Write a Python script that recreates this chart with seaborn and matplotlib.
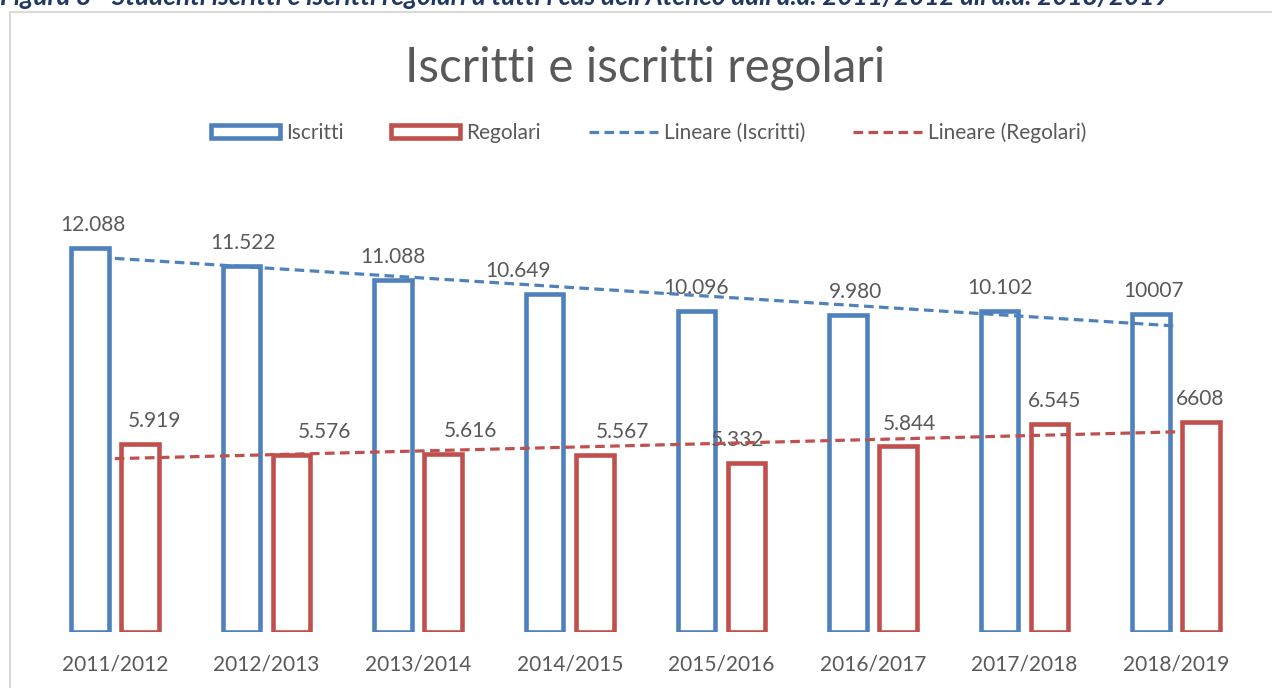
import numpy as np
import pandas as pd
import matplotlib
matplotlib.use("Agg")
import matplotlib.pyplot as plt
import matplotlib.patches as mpatches
import matplotlib.lines as mlines
import seaborn as sns

# ---------------- Data ----------------

anni = ['2011/2012', '2012/2013', '2013/2014', '2014/2015',
        '2015/2016', '2016/2017', '2017/2018', '2018/2019']
iscritti = [12088, 11522, 11088, 10649, 10096, 9980, 10102, 10007]
regolari = [5919, 5576, 5616, 5567, 5332, 5844, 6545, 6608]
etichette_iscritti = ['12.088', '11.522', '11.088', '10.649',
                      '10.096', '9.980', '10.102', '10007']
etichette_regolari = ['5.919', '5.576', '5.616', '5.567',
                      '5.332', '5.844', '6.545', '6608']

# label nudges (pixels), as placed by hand in the original
nudge_iscritti = [3, 2, 0, -27, 0, 8, 0, 2]
nudge_regolari = [15, 33, 27, 28, -9, 11, 5, -1]

BLU = '#4F81BD'
ROSSO = '#C0504D'
GRIGIO = '#595959'

df = pd.DataFrame({
    'Anno': anni * 2,
    'Valore': iscritti + regolari,
    'Serie': ['Iscritti'] * len(anni) + ['Regolari'] * len(anni),
})

# ---------------- Plot ----------------

sns.set_style('white')
plt.rcParams['font.family'] = ['Lato', 'DejaVu Sans']

fig = plt.figure(figsize=(12.72, 6.88), dpi=100)
ax = fig.add_axes([0.0307, 0.0814, 0.9536, 0.6236])

sns.barplot(
    data=df, x='Anno', y='Valore', hue='Serie',
    palette=[BLU, ROSSO], saturation=1, fill=False,
    width=0.66, gap=0.25, linewidth=3.3, errorbar=None,
    legend=False, ax=ax
)

# linear trend lines
xs = np.arange(len(anni))
for serie, col in [(iscritti, BLU), (regolari, ROSSO)]:
    m, q = np.polyfit(xs, serie, 1)
    ax.plot(xs, m * xs + q, color=col, lw=2.3,
            linestyle=(0, (3, 1.7)), zorder=5)

# data labels
for cont, labs, nud in [(ax.containers[0], etichette_iscritti, nudge_iscritti),
                        (ax.containers[1], etichette_regolari, nudge_regolari)]:
    for bar, lab, n in zip(cont, labs, nud):
        cx = bar.get_x() + bar.get_width() / 2
        ax.annotate(lab, (cx, bar.get_height()),
                    xytext=(n * 0.72, 12), textcoords='offset points',
                    ha='center', va='baseline', fontsize=15, color=GRIGIO)

ax.set_xlim(-0.5, 7.5)
ax.set_ylim(0, 13500)
ax.set_yticks([])
ax.set_xlabel('')
ax.set_ylabel('')
ax.tick_params(axis='x', length=0, pad=16, labelsize=15, labelcolor=GRIGIO)
sns.despine(ax=ax, left=True, bottom=True)

# title
fig.text(0.507, 0.902, 'Iscritti e iscritti regolari', ha='center', va='center',
         fontsize=34.3, color=GRIGIO)

# legend
handles = [
    mpatches.Patch(facecolor='white', edgecolor=BLU, linewidth=3.3, label='Iscritti'),
    mpatches.Patch(facecolor='white', edgecolor=ROSSO, linewidth=3.3, label='Regolari'),
    mlines.Line2D([], [], color=BLU, lw=2.3, linestyle=(0, (3, 1.7)),
                  label='Lineare (Iscritti)'),
    mlines.Line2D([], [], color=ROSSO, lw=2.3, linestyle=(0, (3, 1.7)),
                  label='Lineare (Regolari)'),
]
leg = fig.legend(handles=handles, loc='center', bbox_to_anchor=(0.51, 0.807),
                 ncol=4, frameon=False, fontsize=15, handlelength=3.3,
                 handleheight=0.6, handletextpad=0.3, columnspacing=2.3)
for t in leg.get_texts():
    t.set_color(GRIGIO)

# chart frame
fig.patches.append(mpatches.Rectangle((10 / 1272, -0.1), 1.2, 1.1 - 12 / 688,
                                      transform=fig.transFigure, fill=False,
                                      edgecolor='#D9D9D9', linewidth=1.5))

# caption, cut off at the top like in the source
fig.text(0.0, 1 - 5 / 688,
         "Figura 8 - Studenti iscritti e iscritti regolari a tutti i cds dell'Ateneo "
         "dall'a.a. 2011/2012 all'a.a. 2018/2019",
         ha='left', va='baseline', fontsize=18.8, fontweight='bold',
         fontstyle='italic', color='#1F3864')

fig.savefig('out.png', dpi=100)
